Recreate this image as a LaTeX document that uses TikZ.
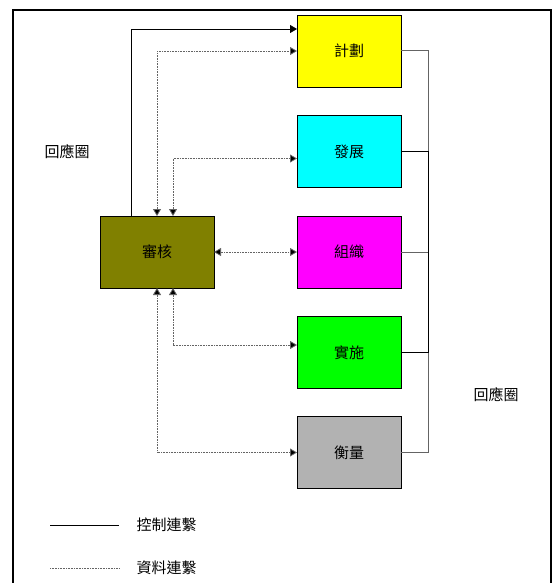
\documentclass[tikz,border=0pt]{standalone}
\usepackage{fontspec}
\setmainfont{Noto Sans CJK TC}
\usetikzlibrary{arrows.meta}

\definecolor{boxYellow}{RGB}{255,255,0}
\definecolor{boxCyan}{RGB}{0,255,255}
\definecolor{boxMagenta}{RGB}{255,0,255}
\definecolor{boxGreen}{RGB}{0,255,0}
\definecolor{boxOlive}{RGB}{128,128,0}
\definecolor{boxGray}{RGB}{178,178,178}
\definecolor{lineGray}{RGB}{100,100,100}

\newcommand{\boxWidth}{104pt}
\newcommand{\boxHeight}{72pt}
\newcommand{\busGap}{27pt}

\tikzset{
  stagebox/.style={draw=black, line width=0.9pt, fill=#1, minimum width=\boxWidth,
    minimum height=\boxHeight, inner sep=0pt, outer sep=0pt},
  ctrl/.style={black, line width=0.8pt},
  data/.style={lineGray, line width=0.8pt, dash pattern=on 1pt off 0.6pt},
  loopgray/.style={lineGray, line width=1pt},
  loopblack/.style={black, line width=1pt},
  txt/.style={font=\fontsize{15pt}{17pt}\selectfont}
}

\begin{document}
\begin{tikzpicture}[x=1pt, y=-1pt, every node/.style={txt},
    >={Triangle[length=7pt,width=8pt,fill=black]}]
  \useasboundingbox (0,0) rectangle (552,583);

  % frame
  \draw[line width=2pt] (13,583) |- (551,10) -- (551,583);

  % stages
  \node[stagebox=boxYellow] (jihua) at (349,51) {計劃};
  \node[stagebox=boxCyan] (fazhan) at (349,151.5) {發展};
  \node[stagebox=boxMagenta] (zuzhi) at (349,252) {組織};
  \node[stagebox=boxGreen] (shishi) at (349,352.5) {實施};
  \node[stagebox=boxGray] (hengliang) at (349,452.5) {衡量};
  \node[stagebox=boxOlive, minimum width=114pt] (shenhe) at (157,252) {審核};

  % control link
  \draw[ctrl, ->] ([xshift=-26pt]shenhe.north) |- ([yshift=22pt]jihua.west);

  % data links
  \draw[data, <->] (shenhe.north) |- (jihua.west);
  \draw[data, <->] ([xshift=16pt]shenhe.north) |- ([yshift=-7pt]fazhan.west);
  \draw[data, <->] (shenhe.east) -- (zuzhi.west);
  \draw[data, <->] ([xshift=16pt]shenhe.south) |- ([yshift=7.5pt]shishi.west);
  \draw[data, <->] (shenhe.south) |- (hengliang.west);

  % feedback loop
  \draw[loopgray] (jihua.east) -| ([xshift=\busGap]fazhan.east);
  \draw[loopblack] (fazhan.east) -- ++(\busGap,0) |- (shishi.east);
  \draw[loopgray] (zuzhi.east) -- ++(\busGap,0);
  \draw[loopgray] ([xshift=\busGap]shishi.east) |- (hengliang.east);

  \node (loopL) at (67,152) {回應圈};
  \node (loopR) at (496,395) {回應圈};

  % legend
  \coordinate (ctrlA) at (50,525);
  \coordinate (ctrlB) at (119,525);
  \coordinate (dataA) at (50,568);
  \coordinate (dataB) at (119,568);
  \draw[ctrl] (ctrlA) -- (ctrlB);
  \draw[data] (dataA) -- (dataB);
  \node[anchor=west] (ctrlText) at (133,525) {控制連繫};
  \node[anchor=west] (dataText) at (133,568) {資料連繫};
\end{tikzpicture}
\end{document}
